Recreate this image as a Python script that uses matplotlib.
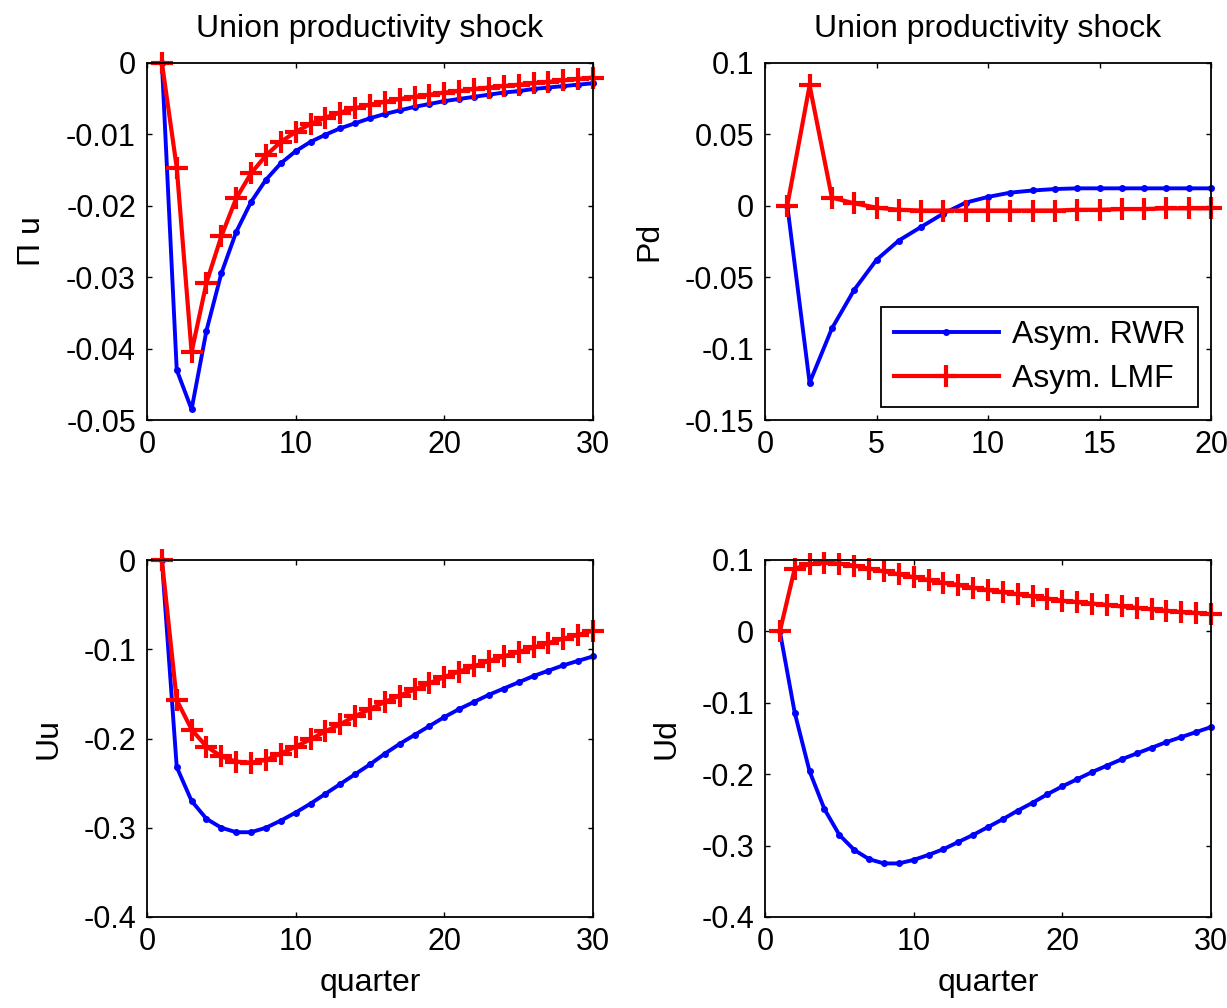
import numpy as np
import matplotlib
matplotlib.use('Agg')
import matplotlib.pyplot as plt

# #### Data (impulse responses to a union productivity shock)
quarters_30 = np.arange(1, 31)
quarters_20 = np.arange(1, 21)

pi_u_rwr = [0, -0.043, -0.0485, -0.0375, -0.0295, -0.0237, -0.0195, -0.0164, -0.0141, -0.0124,
            -0.0111, -0.0101, -0.0092, -0.0085, -0.0078, -0.0072, -0.0067, -0.0062, -0.0058, -0.0054,
            -0.0051, -0.0048, -0.0045, -0.0042, -0.0040, -0.0037, -0.0035, -0.0033, -0.0031, -0.0029]
pi_u_lmf = [0, -0.0147, -0.0405, -0.0308, -0.0243, -0.0190, -0.0155, -0.0130, -0.0111, -0.0097,
            -0.0086, -0.0077, -0.0070, -0.0064, -0.0059, -0.0055, -0.0051, -0.0048, -0.0045, -0.0042,
            -0.0040, -0.0037, -0.0035, -0.0033, -0.0031, -0.0029, -0.0027, -0.0025, -0.0023, -0.0021]

pd_rwr = [0, -0.124, -0.086, -0.059, -0.038, -0.0245, -0.015, -0.0056, 0.002, 0.006,
          0.009, 0.0105, 0.0115, 0.012, 0.012, 0.012, 0.012, 0.012, 0.012, 0.012]
pd_lmf = [0, 0.084, 0.0055, 0.0015, -0.0015, -0.003, -0.0035, -0.0035, -0.0035, -0.0035,
          -0.0035, -0.0035, -0.0035, -0.003, -0.003, -0.0025, -0.0025, -0.002, -0.002, -0.002]

uu_rwr = [0, -0.232, -0.270, -0.290, -0.300, -0.305, -0.305, -0.300, -0.292, -0.283,
          -0.273, -0.262, -0.251, -0.240, -0.229, -0.217, -0.206, -0.196, -0.186, -0.176,
          -0.167, -0.159, -0.151, -0.144, -0.137, -0.130, -0.124, -0.118, -0.113, -0.108]
uu_lmf = [0, -0.157, -0.190, -0.209, -0.220, -0.226, -0.227, -0.224, -0.217, -0.209,
          -0.201, -0.192, -0.184, -0.175, -0.167, -0.159, -0.152, -0.145, -0.138, -0.131,
          -0.125, -0.119, -0.113, -0.108, -0.103, -0.098, -0.093, -0.088, -0.084, -0.079]

ud_rwr = [0, -0.114, -0.196, -0.249, -0.285, -0.306, -0.319, -0.325, -0.325, -0.320,
          -0.313, -0.305, -0.295, -0.285, -0.274, -0.263, -0.251, -0.240, -0.228, -0.217,
          -0.207, -0.197, -0.188, -0.179, -0.171, -0.163, -0.155, -0.148, -0.141, -0.134]
ud_lmf = [0, 0.088, 0.094, 0.096, 0.095, 0.092, 0.088, 0.084, 0.080, 0.076,
          0.072, 0.068, 0.065, 0.061, 0.058, 0.055, 0.052, 0.049, 0.046, 0.043,
          0.041, 0.039, 0.037, 0.035, 0.033, 0.031, 0.029, 0.027, 0.026, 0.024]

title_txt = 'Union productivity shock'
xlabel_txt = 'quarter'
series_names = ['Asym. RWR', 'Asym. LMF']

xt_30 = [0, 10, 20, 30]
xt_20 = [0, 5, 10, 15, 20]
yt_piu = [-0.05, -0.04, -0.03, -0.02, -0.01, 0]
yl_piu = ['-0.05', '-0.04', '-0.03', '-0.02', '-0.01', '0']
yt_pd = [-0.15, -0.1, -0.05, 0, 0.05, 0.1]
yl_pd = ['-0.15', '-0.1', '-0.05', '0', '0.05', '0.1']
yt_uu = [-0.4, -0.3, -0.2, -0.1, 0]
yl_uu = ['-0.4', '-0.3', '-0.2', '-0.1', '0']
yt_ud = [-0.4, -0.3, -0.2, -0.1, 0, 0.1]
yl_ud = ['-0.4', '-0.3', '-0.2', '-0.1', '0', '0.1']

# #### Plot settings
plt.rcParams['font.family'] = ['Liberation Sans', 'DejaVu Sans']
tick_fs = 22
text_fs = 23
rwr_style = dict(color=(0, 0, 1), linewidth=2.8, marker='.', markersize=8, clip_on=False)
lmf_style = dict(color=(1, 0, 0), linewidth=3.0, marker='+', markersize=16, markeredgewidth=3.0, clip_on=False)

fig = plt.figure(figsize=[12.27, 10.08], dpi=100)
fig.patch.set_facecolor('w')

# axes rectangles in figure fractions
W, H = 1227, 1008
def rect(l, t, r, b):
    return [l / W, 1 - b / H, (r - l) / W, (b - t) / H]

panels = [
    (rect(147, 62.5, 593, 420), quarters_30, pi_u_rwr, pi_u_lmf, (0, 30), xt_30, (-0.05, 0), yt_piu, yl_piu, 'Π u', True, False),
    (rect(765, 62.5, 1211, 420), quarters_20, pd_rwr, pd_lmf, (0, 20), xt_20, (-0.15, 0.1), yt_pd, yl_pd, 'Pd', True, False),
    (rect(147, 560, 593, 917), quarters_30, uu_rwr, uu_lmf, (0, 30), xt_30, (-0.4, 0), yt_uu, yl_uu, 'Uu', False, True),
    (rect(765, 560, 1211, 917), quarters_30, ud_rwr, ud_lmf, (0, 30), xt_30, (-0.4, 0.1), yt_ud, yl_ud, 'Ud', False, True),
]

axes = []
for pos, x, y_rwr, y_lmf, xlim, xt, ylim, yt, yl, ylab, has_title, has_xlab in panels:
    ax = fig.add_axes(pos)
    ax.plot(x, y_rwr, label=series_names[0], **rwr_style)
    ax.plot(x, y_lmf, label=series_names[1], **lmf_style)
    ax.set_xlim(*xlim)
    ax.set_ylim(*ylim)
    ax.set_xticks(xt)
    ax.set_xticklabels([str(v) for v in xt])
    ax.set_yticks(yt)
    ax.set_yticklabels(yl)
    ax.tick_params(direction='in', top=True, right=True, length=3.6, width=1.0,
                   labelsize=tick_fs, pad=8, colors='k')
    ax.tick_params(axis='x', pad=7)
    for sp in ax.spines.values():
        sp.set_linewidth(1.3)
    ax.set_ylabel(ylab, fontsize=text_fs, labelpad=14)
    if has_title:
        ax.set_title(title_txt, fontsize=text_fs, pad=18.5)
    if has_xlab:
        ax.set_xlabel(xlabel_txt, fontsize=text_fs, labelpad=8)
    axes.append(ax)

leg = axes[1].legend(loc='lower right', bbox_to_anchor=(0.971, 0.036), borderaxespad=0,
                     fontsize=text_fs, handlelength=3.3, handletextpad=0.4, borderpad=0.4,
                     labelspacing=0.45, numpoints=1, fancybox=False, framealpha=1)
leg.get_frame().set_edgecolor('k')
leg.get_frame().set_linewidth(1.3)

plt.savefig('out.png', dpi=100, facecolor='w')
